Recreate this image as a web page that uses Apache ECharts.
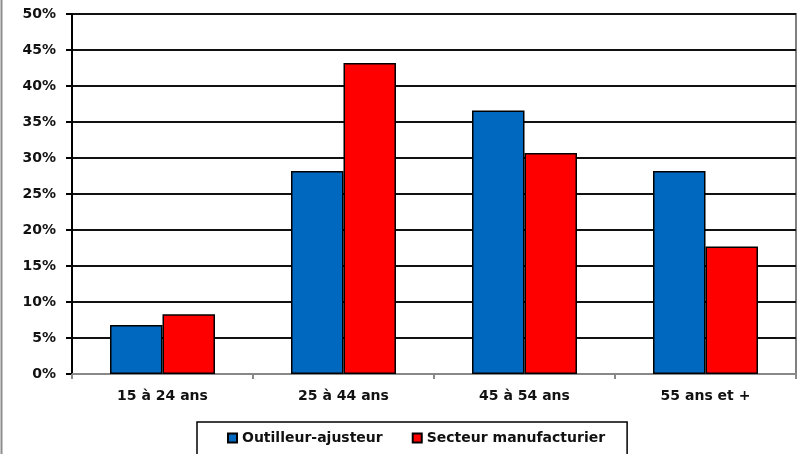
<!DOCTYPE html>
<html>
<head>
<meta charset="utf-8">
<script src="https://cdn.jsdelivr.net/npm/echarts@6/dist/echarts.min.js"></script>
<style>
html,body{margin:0;padding:0;background:#fff;}
#c{width:808px;height:454px;}
</style>
</head>
<body>
<div id="c"></div>
<script>
var categories = ['15 à 24 ans', '25 à 44 ans', '45 à 54 ans', '55 ans et +'];
var outilleur = [6.8, 28.2, 36.6, 28.2];
var secteur = [8.3, 43.2, 30.7, 17.7];
var seriesNames = ['Outilleur-ajusteur', 'Secteur manufacturier'];

var chart = echarts.init(document.getElementById('c'), null, {renderer: 'canvas'});
var font = 'DejaVu Sans';
chart.setOption({
  animation: false,
  backgroundColor: '#fff',
  graphic: [{
    type: 'line',
    shape: {x1: 1.5, y1: 0, x2: 1.5, y2: 454},
    style: {stroke: '#8c8c8c', lineWidth: 2}
  }],
  grid: {
    left: 72, right: 12, top: 14, bottom: 80,
    show: true, borderColor: '#808080', borderWidth: 2, backgroundColor: 'transparent'
  },
  legend: {
    data: seriesNames,
    left: 197, top: 422,
    padding: [9, 22, 12, 30],
    borderColor: '#000', borderWidth: 1.5,
    itemWidth: 9, itemHeight: 9, itemGap: 29,
    icon: 'rect',
    textStyle: {fontFamily: font, fontWeight: 'bold', fontSize: 14, color: '#111'}
  },
  xAxis: {
    type: 'category',
    data: categories,
    axisLine: {lineStyle: {color: '#888', width: 2}},
    axisTick: {show: true, length: 5, lineStyle: {color: '#888', width: 2}},
    axisLabel: {fontFamily: font, fontWeight: 'bold', fontSize: 14, color: '#111', margin: 15}
  },
  yAxis: {
    type: 'value',
    min: 0, max: 50, interval: 5,
    axisLine: {show: true, lineStyle: {color: '#000', width: 2}},
    axisTick: {show: true, length: 6, lineStyle: {color: '#000', width: 2}},
    axisLabel: {formatter: '{value}%', fontFamily: font, fontWeight: 'bold', fontSize: 14, color: '#111', margin: 16},
    splitLine: {show: true, lineStyle: {color: '#111', width: 2}}
  },
  series: [{
    name: seriesNames[0],
    type: 'bar',
    data: outilleur,
    barGap: '0%',
    barCategoryGap: '42%',
    itemStyle: {color: '#0068BE', borderColor: '#000', borderWidth: 1.5}
  }, {
    name: seriesNames[1],
    type: 'bar',
    data: secteur,
    itemStyle: {color: '#FF0000', borderColor: '#000', borderWidth: 1.5}
  }]
});
</script>
</body>
</html>
